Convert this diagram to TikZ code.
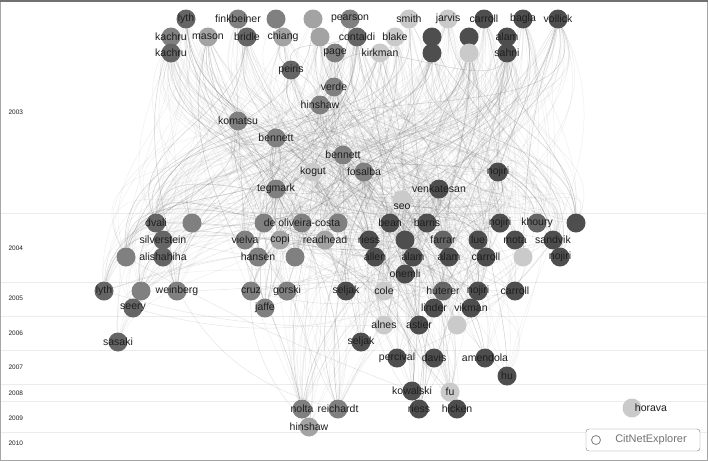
\documentclass[tikz,border=0pt]{standalone}
\usepackage{fontspec}
\setmainfont{Liberation Sans}
\usetikzlibrary{backgrounds}
\definecolor{cd}{HTML}{4E4E4E}
\definecolor{ck}{HTML}{656565}
\definecolor{cm}{HTML}{808080}
\definecolor{cml}{HTML}{A3A3A3}
\definecolor{cl}{HTML}{CACACA}
\definecolor{txt}{HTML}{1E1E1E}
\tikzset{pub/.style={circle,inner sep=0pt,minimum size=19pt},
 lab/.style={text=txt,font=\fontsize{10.5}{12}\selectfont,inner sep=0pt},
 yr/.style={text=txt,font=\fontsize{6.5}{8}\selectfont,anchor=west},
 edge/.style={draw=gray,line width=0.5pt},
 band/.style={draw=gray!15,line width=0.5pt}}
\begin{document}
\begin{tikzpicture}[x=1pt,y=-1pt]
\useasboundingbox (0,0) rectangle (708,461);
\foreach \yy/\t in {112/2003,248/2004,298/2005,333/2006,367/2007,393/2008,418/2009,443/2010} \node[yr] (y\t) at (5,\yy) {\t};
\foreach \i/\x/\y/\c in {
1/186/19/ck,2/238/19/cm,3/276/19/cm,4/313/19/cml,5/350/19/cm,6/409/19/cl,7/448/19/cl,8/484/19/cd,9/523/19/cd,10/558/19/cd,
11/171/37/cm,12/208/37/cml,13/247/37/ck,14/283/37/cml,15/320/37/cml,16/357/37/ck,17/395/37/cl,18/432/37/cd,19/469/37/cd,20/507/37/cd,
21/171/53/ck,22/335/53/cm,23/380/53/cl,24/432/53/cd,25/469/53/cl,26/507/53/cd,
27/291/70/ck,28/334/87/cm,29/320/105/cm,30/238/121/cm,31/276/138/cm,32/343/155/cm,33/313/172/cl,34/364/172/cm,35/498/172/cd,36/276/189/cm,37/439/189/cd,38/402/200/cl,
39/156/223/ck,40/192/223/cm,41/264/223/cm,42/302/223/cm,43/338/223/cm,44/390/223/cd,45/427/223/cd,46/500/223/cd,47/537/223/ck,48/576/223/cd,
49/163/240/ck,50/245/240/cm,51/280/240/cml,52/325/240/cml,53/369/240/cd,54/405/240/cd,55/443/240/ck,56/478/240/cd,57/515/240/cd,58/553/240/cd,
59/126/257/cm,60/163/257/ck,61/258/257/cm,62/295/257/cm,63/375/257/cd,64/413/257/cd,65/449/257/cd,66/486/257/cd,67/523/257/cl,68/560/257/cd,
69/405/274/cd,70/104/291/ck,71/141/291/cm,72/177/291/cm,73/251/291/cm,74/287/291/cm,75/346/291/cd,76/384/291/cl,77/443/291/ck,78/478/291/cd,79/515/291/cd,
80/133/308/ck,81/265/308/cm,82/434/308/cd,83/471/308/cd,84/384/325/cl,85/419/325/cd,86/457/325/cl,87/118/342/ck,88/361/342/cd,
89/397/358/cd,90/434/358/cd,91/485/358/cd,92/507/376/cd,93/412/391/cd,94/450/392/cl,95/302/409/cm,96/338/409/cm,97/419/409/cd,98/457/409/cd,99/309/427/cml,100/632/408/cl}
{ \node[pub,fill=\c] (n\i) at (\x,\y) {}; }
\foreach \i/\t in {1/lyth,2/finkbeiner,5/pearson,6/smith,7/jarvis,8/carroll,9/bagla,10/vollick,11/kachru,12/mason,13/bridle,14/chiang,16/contaldi,17/blake,20/alam,21/kachru,22/page,23/kirkman,26/sahni,27/peiris,28/verde,29/hinshaw,30/komatsu,31/bennett,32/bennett,33/kogut,34/fosalba,35/nojiri,36/tegmark,37/venkatesan,39/dvali,42/de oliveira-costa,44/bean,45/barris,46/nojiri,47/khoury,49/silverstein,50/vielva,51/copi,52/readhead,53/riess,55/farrar,56/lue,57/mota,58/sandvik,60/alishahiha,61/hansen,63/allen,64/alam,65/alam,66/carroll,68/nojiri,69/onemli,70/lyth,72/weinberg,73/cruz,74/gorski,75/seljak,76/cole,77/huterer,78/nojiri,79/carroll,80/seery,81/jaffe,82/linder,83/vikman,84/alnes,85/astier,87/sasaki,88/seljak,89/percival,90/davis,91/amendola,92/hu,93/kowalski,94/fu,95/nolta,96/reichardt,97/riess,98/hicken,99/hinshaw}
{ \node[lab] (l\i) at (n\i) {\t}; }
\node[lab] (l38) at (402,207) {seo};
\node[lab] (l100) at (651,408) {horava};
\begin{pgfonlayer}{background}
\fill[white] (0,0) rectangle (708,461);
\foreach \yy in {213,282,316,350,384,401,432} \draw[band] (0,\yy) -- (708,\yy);
\pgfmathsetseed{11}
\foreach \k in {1,...,550} {
  \pgfmathrandominteger{\a}{1}{38}
  \pgfmathrandominteger{\b}{39}{99}
  \pgfmathrandominteger{\c}{240}{300}
  \pgfmathrandominteger{\d}{60}{120}
  \draw[edge,opacity=0.12] (n\a) to[out=\c,in=\d] (n\b);
}
\foreach \k in {1,...,120} {
  \pgfmathrandominteger{\a}{1}{38}
  \pgfmathrandominteger{\b}{27}{99}
  \pgfmathrandominteger{\c}{250}{290}
  \pgfmathrandominteger{\d}{70}{110}
  \draw[edge,opacity=0.35] (n\a) to[out=\c,in=\d] (n\b);
}
\foreach \k in {1,...,60} {
  \pgfmathrandominteger{\a}{39}{70}
  \pgfmathrandominteger{\b}{70}{99}
  \pgfmathrandominteger{\c}{-30}{30}
  \draw[edge,opacity=0.2] (n\a) to[bend left=\c] (n\b);
}
\end{pgfonlayer}
\draw[gray!70,line width=0.6pt] (0.3,0.3) rectangle (707.7,460.7);
\draw[cd!80,line width=2pt] (0,1) -- (708,1);
\node[draw=gray,rounded corners=3pt,fill=white,minimum width=114pt,minimum height=22pt,inner sep=0pt] (logo) at (643,440) {};
\node[text=gray!90!black,font=\fontsize{11}{12}\selectfont] (logot) at (651,440) {CitNetExplorer};
\node[draw=gray,circle,inner sep=0pt,minimum size=9pt,line width=0.8pt] (logoi) at (596,440) {};
\end{tikzpicture}
\end{document}
